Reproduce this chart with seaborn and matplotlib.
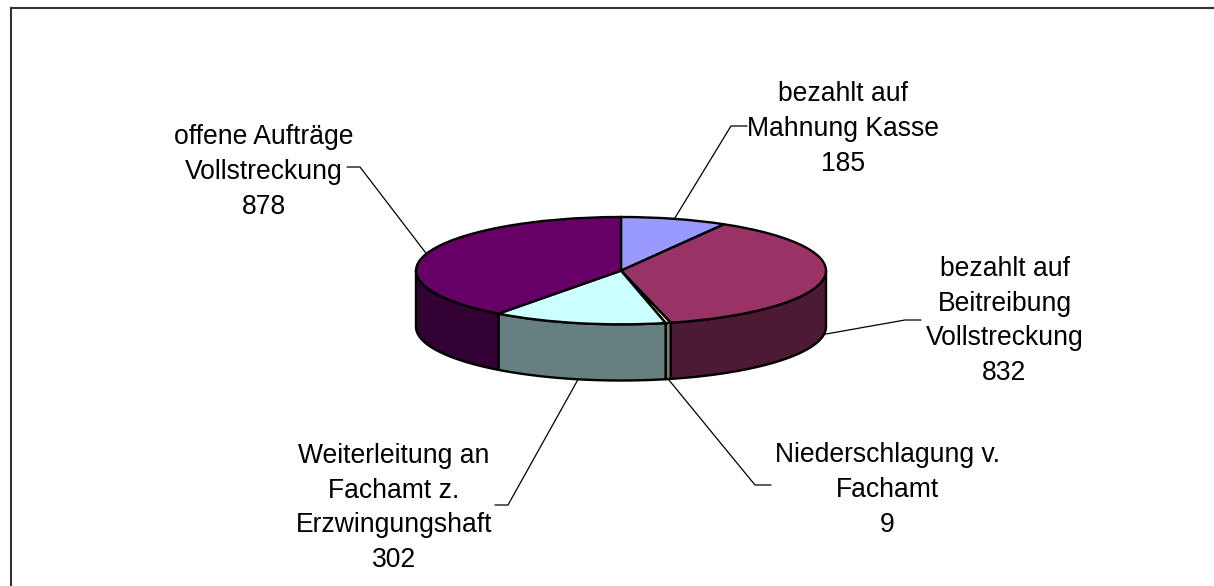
import numpy as np
import matplotlib
matplotlib.use("Agg")
import matplotlib.pyplot as plt
from matplotlib.lines import Line2D
import seaborn as sns

# ---- data
categories = ["bezahlt auf\nMahnung Kasse", "bezahlt auf\nBeitreibung\nVollstreckung",
              "Niederschlagung v.\nFachamt", "Weiterleitung an\nFachamt z.\nErzwingungshaft",
              "offene Aufträge\nVollstreckung"]
values = [185, 832, 9, 302, 878]
slice_colors = ["#9999FF", "#993366", "#FFFFCC", "#CCFFFF", "#660066"]

# ---- layout (pixels of the 1214x586 image)
W, H = 1214, 586
label_xy = [(843, 129), (1004.5, 321), (887, 490), (394, 508), (264, 172)]
knee_xy = [(731, 126), (905, 320), (755, 485), (508, 505), (360, 167)]
stub_xy = [(747, 126), (921, 320), (771, 485), (495, 505), (347, 167)]
on_wall = [False, True, True, True, False]
DEPTH = 56 / 53.5

sns.set_theme(style="white")
plt.rcParams["font.family"] = ["Liberation Sans", "DejaVu Sans"]
palette = sns.color_palette(slice_colors)

fig = plt.figure(figsize=(W / 100, H / 100), dpi=100, facecolor="white")

def fx(x): return x / W
def fy(y): return 1 - y / H

# outer chart frame: only top and left edges are in view
frame = fig.add_axes([fx(10.5), 0, 1 - fx(10.5), fy(8)], facecolor="none")
frame.set_xticks([]); frame.set_yticks([])
sns.despine(ax=frame, top=False, right=True, bottom=True, left=False)
for s in ("top", "left"):
    frame.spines[s].set_color("#333333")
    frame.spines[s].set_linewidth(1.5)

# pie axes: ellipse is the unit circle stretched by the non-equal aspect
ax = fig.add_axes([fx(416), fy(380.5), 410 / W, (380.5 - 217) / H])
total = sum(values)
fracs = np.array(values) / total
edges = np.concatenate([[0], np.cumsum(fracs)]) * 2 * np.pi  # clockwise from top

for i, c in enumerate(palette):
    a0 = max(edges[i], np.pi / 2)
    a1 = min(edges[i + 1], 3 * np.pi / 2)
    if a1 <= a0:
        continue
    t = np.linspace(a0, a1, 120)
    xs, ys = np.sin(t), np.cos(t)
    px = np.concatenate([xs, xs[::-1]])
    py = np.concatenate([ys, ys[::-1] - DEPTH])
    ax.fill(px, py, facecolor=tuple(np.array(c) / 2), edgecolor="black",
            linewidth=1.7, clip_on=False, zorder=1, joinstyle="round")

ax.pie(values, colors=palette, startangle=90, counterclock=False,
       wedgeprops=dict(edgecolor="black", linewidth=1.7, zorder=2))
ax.set_aspect("auto")
ax.set_xlim(-1, 1)
ax.set_ylim(-1 - DEPTH, 1)
ax.axis("off")

# leaders + labels
fig.canvas.draw()
to_fig = fig.transFigure.inverted()
for i, name in enumerate(categories):
    mid = (edges[i] + edges[i + 1]) / 2
    anchor = (np.sin(mid), np.cos(mid) - (DEPTH if on_wall[i] else 0))
    a = to_fig.transform(ax.transData.transform(anchor))
    fig.add_artist(Line2D([a[0], fx(knee_xy[i][0]), fx(stub_xy[i][0])],
                          [a[1], fy(knee_xy[i][1]), fy(stub_xy[i][1])],
                          color="black", lw=0.9, zorder=5))
    fig.text(fx(label_xy[i][0]), fy(label_xy[i][1]), f"{name}\n{values[i]}",
             ha="center", va="center", ma="center", fontsize=19.1,
             color="black", linespacing=1.44, zorder=6)

fig.savefig("out.png", dpi=100, facecolor="white")
